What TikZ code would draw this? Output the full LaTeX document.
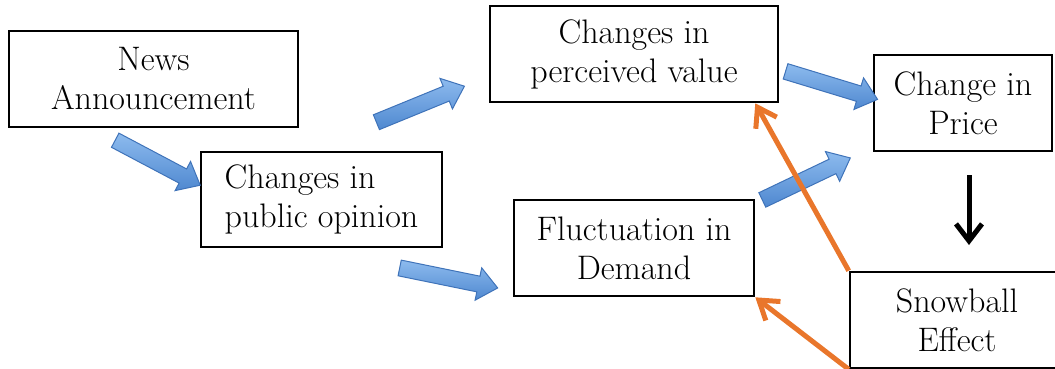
\documentclass[tikz,border=0pt]{standalone}
\usetikzlibrary{shapes.arrows,arrows.meta,calc}
\definecolor{bfillA}{HTML}{8DBBEE}
\definecolor{bfillB}{HTML}{4F88D0}
\definecolor{bdraw}{HTML}{3F73B9}
\definecolor{orng}{HTML}{E9762B}
\tikzset{
  box/.style={draw=black, line width=2.6pt, rectangle, align=center,
    font=\fontsize{34}{39}\selectfont, inner sep=0pt},
  barrow/.style={single arrow, draw=bdraw, line width=1pt, top color=bfillA,
    bottom color=bfillB, inner sep=7.5pt, single arrow head extend=8.5pt,
    single arrow tip angle=80, anchor=center},
  oarrow/.style={draw=orng, line width=5pt, -{Straight Barb[length=18pt,width=24pt]}},
  karrow/.style={draw=black, line width=5pt, -{Straight Barb[length=17pt,width=26pt]}},
}
\newcommand\myblockarrow[2]{%
  \path let \p1=($(#2)-(#1)$), \n1={atan2(\y1,\x1)}, \n2={veclen(\x1,\y1)} in
    node[barrow, minimum height=\n2, rotate=\n1] at ($(#1)!0.5!(#2)$) {};}
\begin{document}
\begin{tikzpicture}[x=1pt,y=-1pt]
\useasboundingbox (0,0) rectangle (1055,369);
% boxes
\node[box, minimum width=289, minimum height=96] (news) at (153.5,79) {News\\Announcement};
\node[box, minimum width=241, minimum height=95, align=left] (pub) at (321.5,199.5) {Changes in\\public opinion};
\node[box, minimum width=288, minimum height=96] (perc) at (634,54) {Changes in\\perceived value};
\node[box, minimum width=240, minimum height=96] (fluc) at (634,248) {Fluctuation in\\Demand};
\node[box, minimum width=178, minimum height=96] (price) at (963,103) {Change in\\Price};
\node[box, minimum width=214, minimum height=96] (snow) at (957,320) {Snowball\\Effect};
% free ends of block arrows
\coordinate (a1) at (111,138); \coordinate (a2) at (196,183);
\coordinate (b1) at (372,124); \coordinate (b2) at (460,88);
\coordinate (c1) at (781,70);  \coordinate (c2) at (873,98);
\coordinate (d1) at (395,267); \coordinate (d2) at (493,287);
\coordinate (e1) at (758,202); \coordinate (e2) at (846,160);
\myblockarrow{a1}{a2}
\myblockarrow{b1}{b2}
\myblockarrow{c1}{c2}
\myblockarrow{d1}{d2}
\myblockarrow{e1}{e2}
% orange arrows
\draw[oarrow] (snow.north west) -- (perc.south -| fluc.east);
\draw[oarrow] (snow.south west) -- (fluc.south east);
% black arrow
\coordinate (k1) at (969,175); \coordinate (k2) at (969,245);
\draw[karrow] (k1) -- (k2);
\end{tikzpicture}
\end{document}
